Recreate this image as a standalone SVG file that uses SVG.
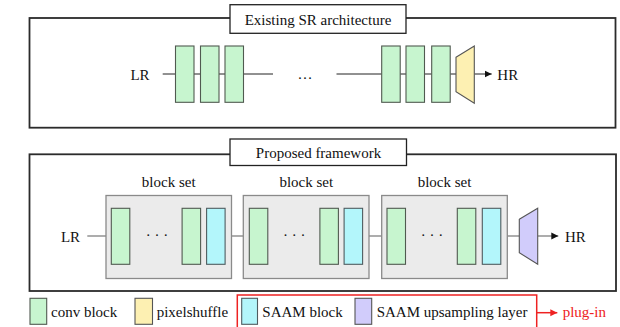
<svg xmlns="http://www.w3.org/2000/svg" width="620" height="327" viewBox="0 0 620 327">
<defs>
<style>
text{font-family:"Liberation Serif","Times New Roman",serif;font-size:15px;fill:#111}
.frame{fill:none;stroke:#2b2b2b;stroke-width:1.8}
.title{fill:#fff;stroke:#222;stroke-width:1.3}
.g{fill:#c7f5cf;stroke:#505a50;stroke-width:1.1}
.c{fill:#b3f6fb;stroke:#4f5c60;stroke-width:1.1}
.y{fill:#fdf0b2;stroke:#555;stroke-width:1.1}
.p{fill:#d1ccfb;stroke:#555;stroke-width:1.1}
.set{fill:#ebebeb;stroke:#8a8a8a;stroke-width:1.3}
.l1{stroke:#222;stroke-width:1;fill:none}
.l2{stroke:#808080;stroke-width:1.3;fill:none}
.red{stroke:#e22;stroke-width:1.5;fill:none}
</style>
<marker id="ah" markerUnits="userSpaceOnUse" markerWidth="8" markerHeight="8" refX="7" refY="4" orient="auto"><path d="M0,0.5 L7,4 L0,7.5 Z" fill="#111"/></marker>
<marker id="ahr" markerUnits="userSpaceOnUse" markerWidth="8" markerHeight="8" refX="7" refY="4" orient="auto"><path d="M0,0.5 L7,4 L0,7.5 Z" fill="#e22"/></marker>
</defs>

<g id="top-frame">
<rect class="frame" x="29.5" y="18" width="586" height="109.7"/>
<rect class="title" x="230" y="4.7" width="176" height="28.6"/>
<text x="318" y="25" text-anchor="middle">Existing SR architecture</text>
</g>

<g id="connectors">
<line class="l1" x1="162.7" y1="74" x2="175.5" y2="74"/>
<line class="l1" x1="194" y1="74" x2="200.5" y2="74"/>
<line class="l1" x1="219" y1="74" x2="225" y2="74"/>
<line class="l1" x1="243.5" y1="74" x2="273" y2="74"/>
<line class="l1" x1="336.5" y1="74" x2="381.7" y2="74"/>
<line class="l1" x1="400.2" y1="74" x2="406" y2="74"/>
<line class="l1" x1="424.5" y1="74" x2="431.7" y2="74"/>
<line class="l1" x1="450.2" y1="74" x2="456" y2="74"/>
<line class="l1" x1="474.3" y1="74" x2="491.7" y2="74" marker-end="url(#ah)"/>
<line class="l2" x1="87.3" y1="236" x2="106" y2="236"/>
<line class="l2" x1="231.5" y1="236" x2="243.3" y2="236"/>
<line class="l2" x1="369" y1="236" x2="381.7" y2="236"/>
<line class="l2" x1="507.3" y1="236" x2="519.3" y2="236"/>
<line class="l2" x1="537.7" y1="236" x2="558.3" y2="236" marker-end="url(#ah)"/>
<line class="red" x1="537" y1="312.7" x2="557.3" y2="312.7" marker-end="url(#ahr)"/>
</g>

<g id="top-lr"><text x="140" y="80" text-anchor="middle">LR</text></g>
<g id="top-blocks-left">
<rect class="g" x="175.5" y="46" width="18.5" height="56.3"/>
<rect class="g" x="200.5" y="46" width="18.5" height="56.3"/>
<rect class="g" x="225" y="46" width="18.5" height="56.3"/>
</g>
<g id="top-dots"><text x="305" y="79" text-anchor="middle">…</text></g>
<g id="top-blocks-right">
<rect class="g" x="381.7" y="46" width="18.5" height="56.3"/>
<rect class="g" x="406" y="46" width="18.5" height="56.3"/>
<rect class="g" x="431.7" y="46" width="18.5" height="56.3"/>
</g>
<g id="top-pixelshuffle"><polygon class="y" points="456,57.3 474.3,46 474.3,103.3 456,91.7"/></g>
<g id="top-hr"><text x="497.3" y="80">HR</text></g>

<g id="bottom-frame">
<rect class="frame" x="29.5" y="154.3" width="586.5" height="136.7"/>
<rect class="title" x="230" y="139" width="176.5" height="26.5"/>
<text x="318.5" y="158" text-anchor="middle">Proposed framework</text>
</g>

<g id="bottom-lr"><text x="70.5" y="241.5" text-anchor="middle">LR</text></g>

<g id="blockset-1">
<text x="168.7" y="186.7" text-anchor="middle">block set</text>
<rect class="set" x="106" y="195.5" width="125.5" height="83"/>
<rect class="g" x="111.3" y="208.3" width="18.5" height="56"/>
<text x="157" y="240" text-anchor="middle">· · ·</text>
<rect class="g" x="182.1" y="208.3" width="18.5" height="56"/>
<rect class="c" x="206.6" y="208.3" width="18.5" height="56"/>
</g>
<g id="blockset-2">
<text x="306.3" y="186.7" text-anchor="middle">block set</text>
<rect class="set" x="243.3" y="195.5" width="125.7" height="83"/>
<rect class="g" x="249.3" y="208.3" width="18.5" height="56"/>
<text x="294.3" y="240" text-anchor="middle">· · ·</text>
<rect class="g" x="319.9" y="208.3" width="18.5" height="56"/>
<rect class="c" x="344.1" y="208.3" width="18.5" height="56"/>
</g>
<g id="blockset-3">
<text x="444.5" y="186.7" text-anchor="middle">block set</text>
<rect class="set" x="381.7" y="195.5" width="125.6" height="83"/>
<rect class="g" x="387" y="208.3" width="18.5" height="56"/>
<text x="432" y="240" text-anchor="middle">· · ·</text>
<rect class="g" x="457.3" y="208.3" width="18.5" height="56"/>
<rect class="c" x="482.3" y="208.3" width="18.5" height="56"/>
</g>
<g id="saam-upsampling"><polygon class="p" points="519.3,219.3 537.7,208.3 537.7,264.3 519.3,252.7"/></g>
<g id="bottom-hr"><text x="565" y="241.5">HR</text></g>

<g id="legend">
<rect class="g" x="30" y="298.3" width="16.7" height="26"/>
<text x="51" y="317">conv block</text>
<rect class="y" x="135" y="298.3" width="17.5" height="26"/>
<text x="156.7" y="317">pixelshuffle</text>
<rect class="red" x="237.3" y="295" width="299.4" height="40"/>
<rect class="c" x="241.7" y="298.3" width="15.8" height="26"/>
<text x="262.3" y="317">SAAM block</text>
<rect class="p" x="355" y="298.3" width="16.7" height="26"/>
<text x="376.7" y="317">SAAM upsampling layer</text>
<text x="562.7" y="317" style="fill:#e22">plug-in</text>
</g>
</svg>
